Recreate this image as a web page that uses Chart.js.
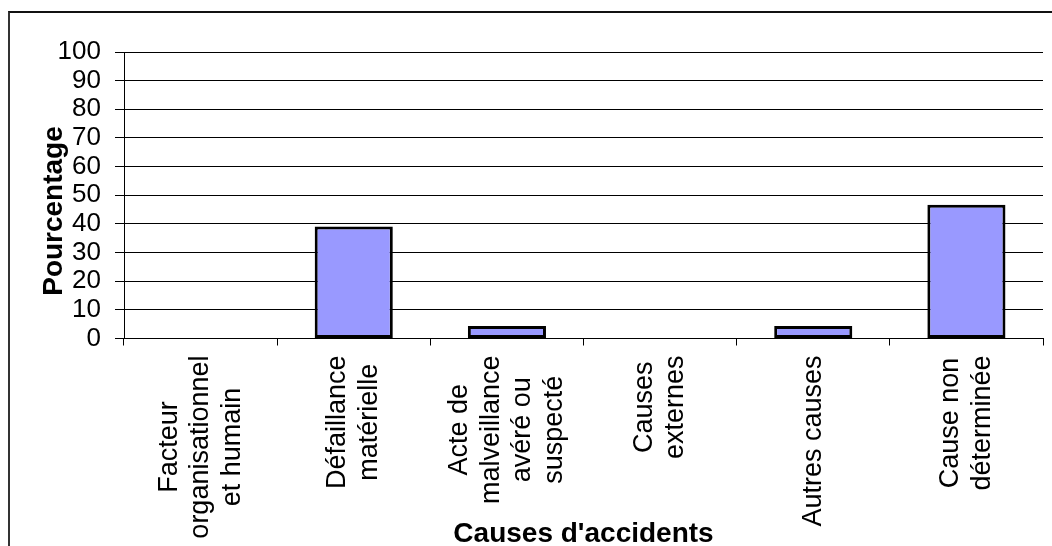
<!DOCTYPE html>
<html>
<head>
<meta charset="utf-8">
<script src="https://cdn.jsdelivr.net/npm/chart.js@4/dist/chart.umd.min.js"></script>
<style>
  html, body { margin: 0; padding: 0; background: #fff; }
  #wrap { position: relative; width: 1052px; height: 546px; overflow: hidden; }
  #frame { position: absolute; left: 8px; top: 11px; width: 1200px; height: 700px;
           border-top: 2px solid #111; border-left: 2px solid #333; box-sizing: border-box; }
  #c { position: absolute; left: 0; top: 0; }
</style>
</head>
<body>
<div id="wrap">
  <div id="frame"></div>
  <canvas id="c" width="1052" height="546"></canvas>
</div>
<script>
// Causes d'accidents, part de chaque cause en pourcentage
const categories = [
  ["Facteur", "organisationnel", "et humain"],
  ["Défaillance", "matérielle"],
  ["Acte de", "malveillance", "avéré ou", "suspecté"],
  ["Causes", "externes"],
  ["Autres causes"],
  ["Cause non", "déterminée"]
];
const percentages = [0, 39.1, 4.4, 0, 4.4, 46.7];
const yTicks = [0, 10, 20, 30, 40, 50, 60, 70, 80, 90, 100];

const yTitle = "Pourcentage";
const xTitle = "Causes d'accidents";

const FONT = '"Liberation Sans", Arial, sans-serif';
const TICK_SIZE = 26;
const LABEL_SIZE = 27;
const TITLE_SIZE = 28;

// Category labels: rotated, lines centred on each other, block starting under the axis
const categoryLabels = {
  id: 'categoryLabels',
  afterDraw(chart) {
    const ctx = chart.ctx;
    const x = chart.scales.x;
    const lineGap = 31.5;
    ctx.save();
    ctx.font = LABEL_SIZE + 'px ' + FONT;
    ctx.fillStyle = '#000';
    ctx.textAlign = 'center';
    ctx.textBaseline = 'middle';
    categories.forEach((lines, i) => {
      const cx = x.getPixelForValue(i);
      const w = Math.max(...lines.map(l => ctx.measureText(l).width));
      const cy = x.top + 17 + w / 2;
      ctx.save();
      ctx.translate(cx, cy);
      ctx.rotate(-Math.PI / 2);
      lines.forEach((l, k) => {
        ctx.fillText(l, 0, (k - (lines.length - 1) / 2) * lineGap);
      });
      ctx.restore();
    });
    ctx.restore();
  }
};

// Axis titles
const axisTitles = {
  id: 'axisTitles',
  afterDraw(chart) {
    const ctx = chart.ctx;
    const area = chart.chartArea;
    ctx.save();
    ctx.font = 'bold ' + TITLE_SIZE + 'px ' + FONT;
    ctx.fillStyle = '#000';
    ctx.textAlign = 'center';
    ctx.textBaseline = 'alphabetic';
    ctx.fillText(xTitle, (area.left + area.right) / 2, 541.5);
    ctx.translate(62, 211);
    ctx.rotate(-Math.PI / 2);
    ctx.fillText(yTitle, 0, 0);
    ctx.restore();
  }
};

new Chart(document.getElementById('c'), {
  type: 'bar',
  data: {
    labels: categories.map(l => l.join(' ')),
    datasets: [{
      data: percentages,
      backgroundColor: '#9999FF',
      borderColor: '#000',
      borderWidth: 3,
      borderSkipped: false,
      categoryPercentage: 1,
      barPercentage: 0.51
    }]
  },
  options: {
    responsive: false,
    animation: false,
    devicePixelRatio: 1,
    layout: { padding: { top: 52, right: 9, left: 0, bottom: 0 } },
    plugins: { legend: { display: false }, tooltip: { enabled: false } },
    scales: {
      x: {
        offset: true,
        grid: { display: true, drawOnChartArea: false, drawTicks: true, tickLength: 7, offset: true, color: '#000', lineWidth: 1 },
        border: { display: true, color: '#000', width: 1 },
        ticks: { display: false },
        afterFit(scale) { scale.height = 207.5; }
      },
      y: {
        min: 0,
        max: 100,
        afterBuildTicks(scale) { scale.ticks = yTicks.map(v => ({ value: v })); },
        grid: { color: '#000', lineWidth: 1, tickLength: 9, drawTicks: true },
        border: { display: true, color: '#000', width: 1 },
        ticks: {
          autoSkip: false,
          padding: 14,
          color: '#000',
          font: { family: FONT, size: TICK_SIZE },
          callback: v => String(v)
        },
        afterFit(scale) { scale.width = 124; }
      }
    }
  },
  plugins: [categoryLabels, axisTitles]
});
</script>
</body>
</html>
